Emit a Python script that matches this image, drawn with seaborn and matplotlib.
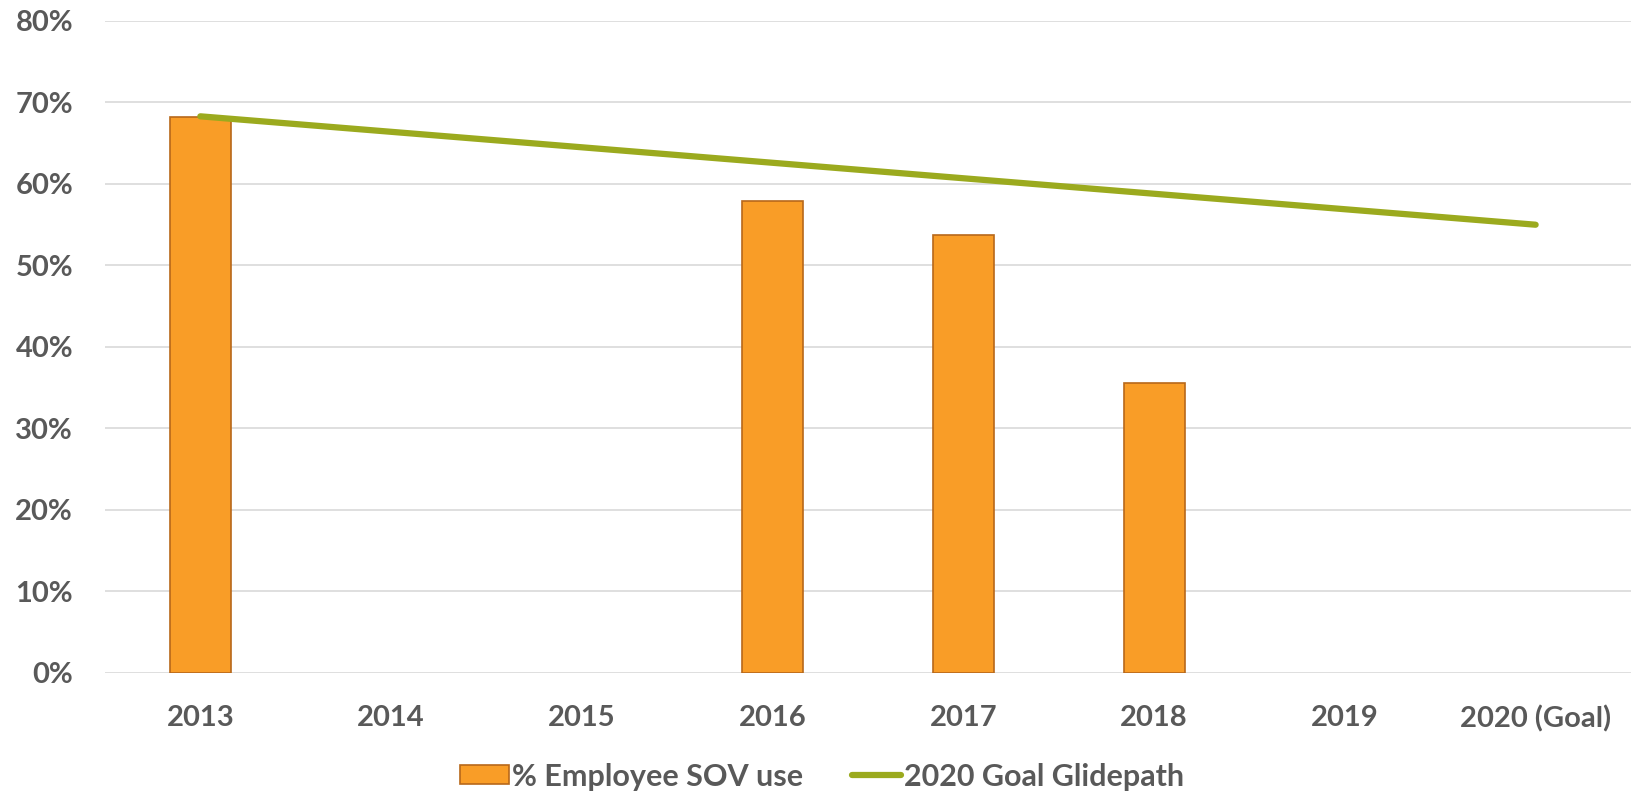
import matplotlib
matplotlib.use("Agg")
import matplotlib.pyplot as plt
import seaborn as sns
import numpy as np
import pandas as pd
from matplotlib.patches import Patch
from matplotlib.lines import Line2D

years = ["2013", "2014", "2015", "2016", "2017", "2018", "2019", "2020 (Goal)"]
sov_use = [68.2, np.nan, np.nan, 57.9, 53.7, 35.6, np.nan, np.nan]
glidepath = [68.3, 66.4, 64.5, 62.6, 60.7, 58.8, 56.9, 55.0]
yticks = [0, 10, 20, 30, 40, 50, 60, 70, 80]

sns.set_theme(style="white")
plt.rcParams['font.family'] = ['Lato', 'DejaVu Sans']

txt = "#595959"
bar_col = "#F99D27"
bar_edge = "#B8681A"
line_col = "#9BAA1E"

df = pd.DataFrame({"year": years, "sov": sov_use, "glide": glidepath})

fig = plt.figure(figsize=(16.45, 7.94), dpi=100)
ax = fig.add_axes([0.0638, 0.1524, 0.9277, 0.8212])

sns.barplot(data=df, x="year", y="sov", order=years, color=bar_col, width=0.32,
            edgecolor=bar_edge, linewidth=1.2, saturation=1, ax=ax, zorder=2)
ax.plot(np.arange(len(years)), df["glide"], color=line_col, lw=4.5,
        solid_capstyle="round", zorder=3)

ax.set_xlim(-0.5, len(years) - 0.5)
ax.set_ylim(0, 80)
ax.set_yticks(yticks)
ax.set_yticklabels([f"{t}%" for t in yticks])
ax.yaxis.grid(True, color="#D9D9D9", lw=1.2, zorder=0)
ax.set_axisbelow(True)
for s in ax.spines.values():
    s.set_visible(False)
ax.tick_params(axis="both", length=0, labelsize=21, labelcolor=txt)
ax.tick_params(axis="x", pad=23)
ax.tick_params(axis="y", pad=23)
for lab in ax.get_xticklabels() + ax.get_yticklabels():
    lab.set_fontweight("bold")
ax.set_xlabel("")
ax.set_ylabel("")

handles = [Patch(facecolor=bar_col, edgecolor=bar_edge, linewidth=1.2),
           Line2D([0], [0], color=line_col, lw=4.5, solid_capstyle="round")]
leg = fig.legend(handles, ["% Employee SOV use", "2020 Goal Glidepath"],
                 loc="center", bbox_to_anchor=(0.5, 0.022), ncol=2, frameon=False,
                 prop={"size": 22, "weight": "bold"}, handlelength=1.6,
                 handleheight=0.6, handletextpad=0.1, columnspacing=1.6)
for t in leg.get_texts():
    t.set_color(txt)

fig.savefig("out.png", dpi=100)
